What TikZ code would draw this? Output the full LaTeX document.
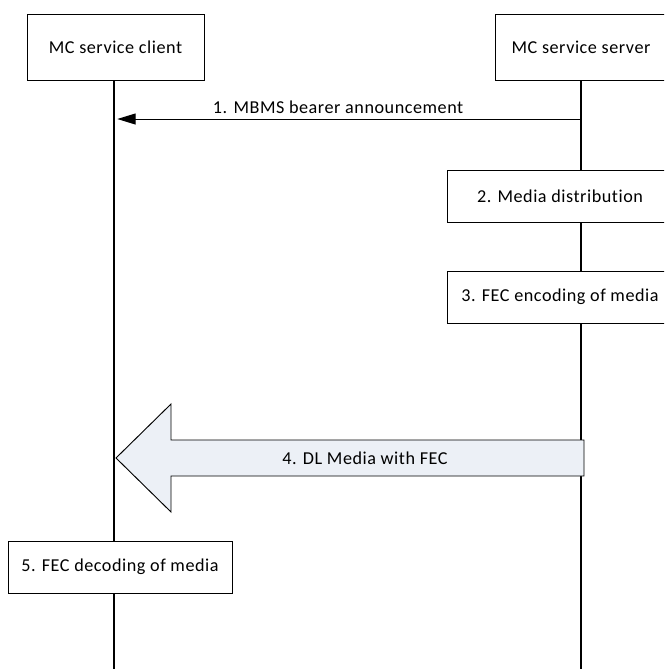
\documentclass[tikz,border=0pt]{standalone}
\usepackage{xcolor}
\usepackage{tikz}
\usepackage{fontspec}
\setmainfont{Carlito}[Ligatures=NoCommon, LetterSpace=3]
\usetikzlibrary{
    arrows.meta,
    positioning
}

\definecolor{arrowfill}{RGB}{236,240,246}

\begin{document}
\begin{tikzpicture}[
x=0.3mm, y=-0.3mm,
line width=0.8pt,
box/.style={
draw,
fill=white,
minimum height=15.6mm,
align=center,
font=\fontsize{15.5}{18}\selectfont
},
lifeline/.style={
draw,
line width=0.9pt
},
msg/.style={
-{Triangle[length=5.5mm,width=3.3mm]},
line width=0.8pt
},
bigarrow/.style={
draw,
fill=arrowfill,
line width=0.8pt
},
lbl/.style={
font=\fontsize{15.5}{18}\selectfont
}
]

\useasboundingbox (0,0) rectangle (664,669);
\clip (0,0) rectangle (664,669);

\node[box, minimum width=53.1mm, minimum height=19.8mm] (client) at (115.5,47)
{MC service client};

\node[box, minimum width=51.6mm, minimum height=19.8mm] (server) at (581,47)
{MC service server};

% lifelines
\coordinate (clientend) at (114,669);
\coordinate (serverend) at (581,669);

\draw[lifeline] (client.south -| clientend) -- (clientend);
\draw[lifeline] (server.south -| serverend) -- (serverend);

\coordinate (s1) at (581,119);
\coordinate (c1) at (114,119);

\draw[msg, shorten >=1mm] (s1) -- node[lbl, above=1pt, pos=0.52]
{1. MBMS bearer announcement}
(c1);

\node[box, minimum width=67.8mm] (distrib) at (560,196)
{2. Media distribution};

\node[box, minimum width=67.8mm] (encode) at (560,297)
{3. FEC encoding of media};

% big arrow
\coordinate (c4) at (116,458);
\coordinate (s4) at (584,458);

\draw[bigarrow] (c4) -- ++(55,-54) -- ++(0,36) -- (s4 |- 0,440)
-- (s4 |- 0,476) -- ++(-413,0) -- ++(0,36) -- cycle;

\node[lbl] (media) at (365,458)
{4. DL Media with FEC};

\node[box, minimum width=67.2mm] (decode) at (120,567)
{5. FEC decoding of media};

\end{tikzpicture}
\end{document}
